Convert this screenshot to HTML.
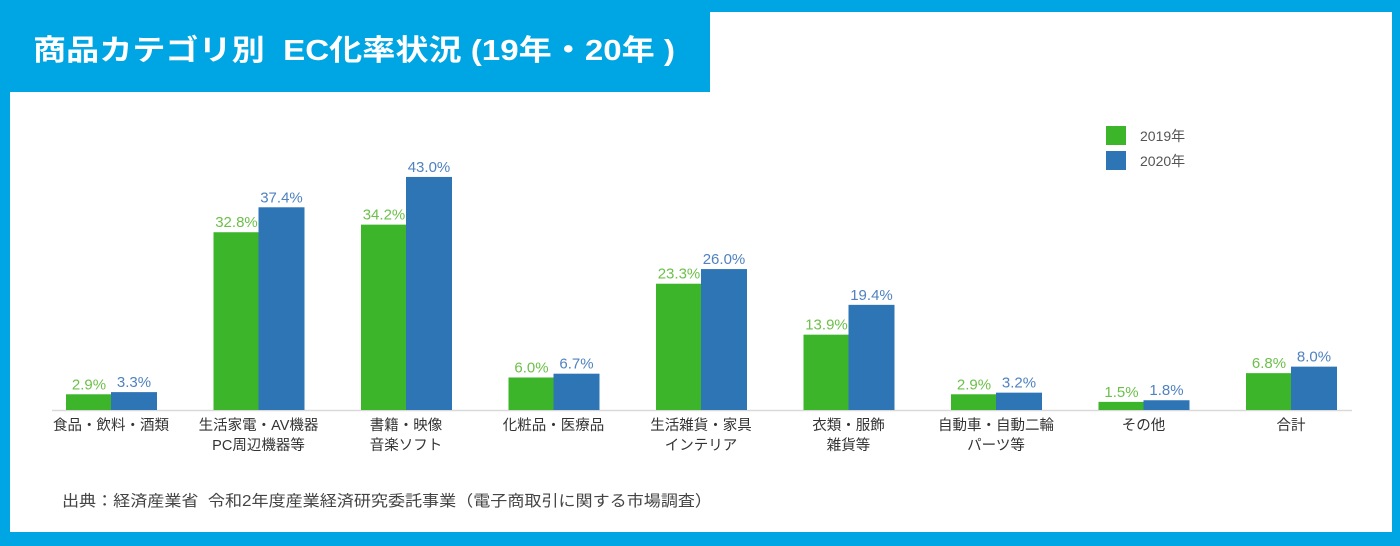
<!DOCTYPE html>
<html><head><meta charset="utf-8"><style>
body{margin:0;width:1400px;height:546px;overflow:hidden;background:#00a5e3;font-family:"Liberation Sans","Noto Sans CJK JP",sans-serif;}
#w{position:absolute;left:10px;top:12px;width:1382px;height:520px;background:#fff;}
#t{position:absolute;left:0;top:0;width:710px;height:92px;background:#00a5e3;}
</style></head><body>
<div id="w"></div>
<div id="t"></div>
<svg width="1400" height="546" style="position:absolute;left:0;top:0" font-family="Liberation Sans, Noto Sans CJK JP, sans-serif">
<text x="33" y="60" font-size="29" font-weight="bold" fill="#fff" textLength="642" lengthAdjust="spacingAndGlyphs">商品カテゴリ別&#160; EC化率状況 (19年・20年 )</text>
<line x1="52" y1="410.5" x2="1352" y2="410.5" stroke="#d9d9d9" stroke-width="1.5"/>
<g id="bars"></g>
<rect x="1106" y="126" width="20" height="19" fill="#3cb52a"/>
<rect x="1106" y="151" width="20" height="19" fill="#2e75b6"/>
<text x="1140" y="141" font-size="14" fill="#555">2019年</text>
<text x="1140" y="166" font-size="14" fill="#555">2020年</text>
<text x="62" y="506" font-size="15.5" fill="#444" textLength="650" lengthAdjust="spacingAndGlyphs">出典：経済産業省&#160; 令和2年度産業経済研究委託事業（電子商取引に関する市場調査）</text>
</svg>
<script>
var d=[[2.9,3.3,"食品・飲料・酒類",""],[32.8,37.4,"生活家電・AV機器","PC周辺機器等"],[34.2,43.0,"書籍・映像","音楽ソフト"],[6.0,6.7,"化粧品・医療品",""],[23.3,26.0,"生活雑貨・家具","インテリア"],[13.9,19.4,"衣類・服飾","雑貨等"],[2.9,3.2,"自動車・自動二輪","パーツ等"],[1.5,1.8,"その他",""],[6.8,8.0,"合計",""]];
var s="",k=5.42,b=410;
d.forEach(function(e,i){var c=111+i*147.5;
var h1=e[0]*k,h2=e[1]*k;
s+='<rect x="'+(c-45)+'" y="'+(b-h1)+'" width="45" height="'+h1+'" fill="#3cb52a"/>';
s+='<rect x="'+c+'" y="'+(b-h2)+'" width="46" height="'+h2+'" fill="#2e75b6"/>';
s+='<text x="'+(c-22)+'" y="'+(b-h1-5)+'" font-size="15" fill="#6cc04a" text-anchor="middle">'+e[0].toFixed(1)+'%</text>';
s+='<text x="'+(c+23)+'" y="'+(b-h2-5)+'" font-size="15" fill="#4f82bf" text-anchor="middle">'+e[1].toFixed(1)+'%</text>';
s+='<text x="'+c+'" y="430" font-size="14.5" fill="#333" text-anchor="middle">'+e[2]+'</text>';
if(e[3])s+='<text x="'+c+'" y="450" font-size="14.5" fill="#333" text-anchor="middle">'+e[3]+'</text>';
});
document.getElementById("bars").innerHTML=s;
</script>
</body></html>
